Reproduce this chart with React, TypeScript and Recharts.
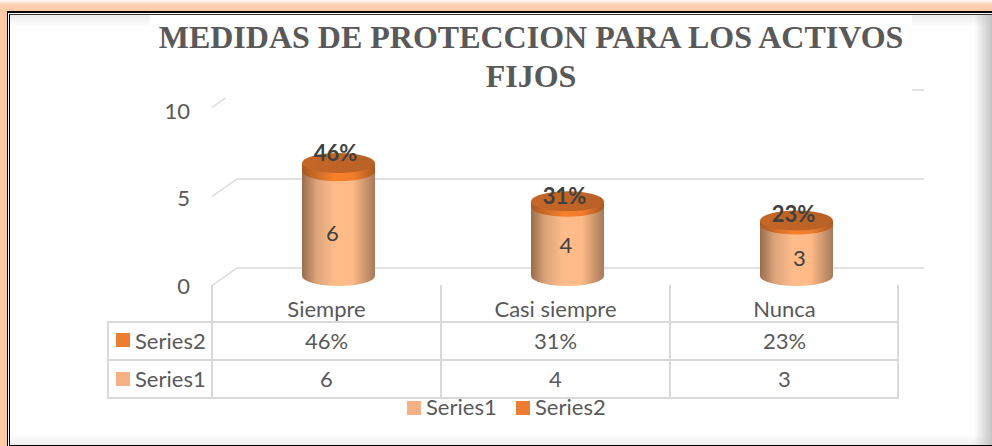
import { BarChart, Bar, XAxis, YAxis, CartesianGrid, Legend, LabelList } from 'recharts';

const titleLines = ['MEDIDAS DE PROTECCION PARA LOS ACTIVOS', 'FIJOS'];
const categories = ['Siempre', 'Casi siempre', 'Nunca'];
const series1 = [6, 4, 3];
const series2 = [0.46, 0.31, 0.23];
const yTicks = [0, 5, 10];

const chartData = categories.map((name, i) => ({ name, Series1: series1[i], Series2: series2[i] }));

const TEXT = '#595959';
const RULE = '#d9d9d9';
const FONT = 'Lato, sans-serif';
const COLORS: Record<string, string> = { Series1: '#f4b183', Series2: '#ed7d31' };
const pct = (v: number) => `${Math.round(v * 100)}%`;

// the cylinders sit in front of the back wall, so everything is nudged off the plot scale
const FRONT_X = -13;
const TOP_DY = 10;
const BASE_DY = 8;
const RY = 10;
// data labels were placed by hand in the original
const bodyLabelDy = [18, 12, 16];
const capLabelDy = [-0.5, 4.5, 3];

function Body({ x, y, width, height }: any) {
  const left = x + FRONT_X;
  const t = y + TOP_DY;
  const b = y + height + BASE_DY;
  const rx = width / 2;
  return (
    <path
      d={`M${left} ${t}L${left} ${b}A${rx} ${RY} 0 0 0 ${left + width} ${b}L${left + width} ${t}A${rx} ${RY} 0 0 0 ${left} ${t}Z`}
      fill="url(#bodyGrad)"
    />
  );
}

function Cap({ x, y, width, height }: any) {
  const left = x + FRONT_X;
  const t = y + TOP_DY;
  const b = t + height;
  const rx = width / 2;
  return (
    <g>
      <path
        d={`M${left} ${t}L${left} ${b}A${rx} ${RY} 0 0 0 ${left + width} ${b}L${left + width} ${t}Z`}
        fill="url(#bandGrad)"
      />
      <ellipse cx={left + rx} cy={t} rx={rx} ry={RY} fill="url(#capGrad)" />
    </g>
  );
}

function BodyLabel({ x, y, width, height, value, index }: any) {
  return (
    <text x={x + FRONT_X + width / 2 + (index - 1) * 4.5 - 1.5} y={y + height / 2 + bodyLabelDy[index]} textAnchor="middle" dominantBaseline="central" fontFamily={FONT} fontSize={22} fill="#404040">
      {value}
    </text>
  );
}

function CapLabel({ x, y, width, value, index }: any) {
  return (
    <text x={x + FRONT_X + width / 2 - 3} y={y + capLabelDy[index]} textAnchor="middle" dominantBaseline="central" fontFamily={FONT} fontSize={22} fontWeight={700} fill="#404040">
      {pct(value)}
    </text>
  );
}

function YTick({ y, payload }: any) {
  return (
    <g>
      <line x1={212} y1={y + 17.5} x2={237} y2={y} stroke={RULE} strokeWidth={1.5} />
      <text x={190} y={y + 17 + payload.value * 0.3} textAnchor="end" dominantBaseline="central" fontFamily={FONT} fontSize={22} fill={TEXT}>
        {payload.value}
      </text>
    </g>
  );
}

// category label plus the two data table cells under it
function TableColumn({ x, index, payload }: any) {
  const cx = x - 25;
  return (
    <g fontFamily={FONT} fontSize={22} fill={TEXT} textAnchor="middle">
      <text x={cx} y={308} dominantBaseline="central">{payload.value}</text>
      <text x={cx} y={340} dominantBaseline="central">{pct(series2[index])}</text>
      <text x={cx} y={378} dominantBaseline="central">{series1[index]}</text>
    </g>
  );
}

function TableRules() {
  const rows = [322, 360, 398];
  const cols = [212, 441, 670, 898];
  return (
    <svg width={992} height={446} style={{ position: 'absolute', left: 0, top: 0 }}>
      {rows.map((y) => <line key={y} x1={108} y1={y} x2={899} y2={y} stroke={RULE} strokeWidth={2} />)}
      {cols.map((x) => <line key={x} x1={x} y1={285} x2={x} y2={399} stroke={RULE} strokeWidth={2} />)}
      <line x1={108} y1={321} x2={108} y2={399} stroke={RULE} strokeWidth={2} />
      <rect x={116} y={333} width={14} height={14} fill={COLORS.Series2} />
      <rect x={116} y={372} width={14} height={14} fill={COLORS.Series1} />
      <g fontFamily={FONT} fontSize={22} fill={TEXT}>
        <text x={135} y={340} dominantBaseline="central">Series2</text>
        <text x={135} y={378} dominantBaseline="central">Series1</text>
      </g>
    </svg>
  );
}

function LegendRow({ payload }: any) {
  return (
    <div style={{ display: 'flex', alignItems: 'center', height: 30 }}>
      {(payload || []).map((p: any) => (
        <div key={p.value} style={{ display: 'flex', alignItems: 'center', width: 109 }}>
          <span style={{ display: 'inline-block', width: 14, height: 14, marginRight: 5, background: COLORS[p.value] }} />
          <span style={{ color: TEXT, fontFamily: FONT, fontSize: 22, lineHeight: '30px', position: 'relative', top: -1 }}>{p.value}</span>
        </div>
      ))}
    </div>
  );
}

export default function App() {
  return (
    <div style={{ position: 'absolute', left: 0, top: 0, width: 992, height: 446, overflow: 'hidden', background: 'linear-gradient(to bottom, #fff 0, #fcd5b8 4px, #fbc9a5 11px)' }}>
      <div style={{ position: 'absolute', left: 7, top: 11, right: -4, bottom: 0, borderLeft: '1px solid #000', borderTop: '2px solid #000', background: '#fff' }}>
        <div style={{ position: 'absolute', left: 1, top: 1, right: 0, bottom: 0, borderLeft: '1px solid #000', borderTop: '1px solid #333', borderBottom: '1px solid #000', background: 'linear-gradient(to bottom, #ececec 0, #fff 12px, #fff 420px, #eee 100%)' }} />
      </div>
      <div style={{ position: 'absolute', left: 974, top: 15, width: 18, height: 430, background: 'linear-gradient(to right, rgba(200,200,200,0), #c4c4c4)' }} />
      <TableRules />
      <div style={{ position: 'absolute', left: 0, top: 0 }}>
        <BarChart width={992} height={446} data={chartData} barSize={73} margin={{ top: 90, right: 68, bottom: 148, left: 177 }}>
          <defs>
            <linearGradient id="bodyGrad" x1="0" x2="1" y1="0" y2="0">
              <stop offset="0" stopColor="#9a6c4c" />
              <stop offset="0.2" stopColor="#dca47b" />
              <stop offset="0.45" stopColor="#ffbc8a" />
              <stop offset="0.7" stopColor="#fdb986" />
              <stop offset="1" stopColor="#a67a5a" />
            </linearGradient>
            <linearGradient id="bandGrad" x1="0" x2="1" y1="0" y2="0">
              <stop offset="0" stopColor="#a85a22" />
              <stop offset="0.45" stopColor="#f8802b" />
              <stop offset="0.7" stopColor="#f27c2c" />
              <stop offset="1" stopColor="#a85a22" />
            </linearGradient>
            <linearGradient id="capGrad" x1="0" x2="1" y1="0" y2="0">
              <stop offset="0" stopColor="#c56727" />
              <stop offset="1" stopColor="#b86126" />
            </linearGradient>
          </defs>
          <CartesianGrid horizontal vertical={false} stroke={RULE} strokeWidth={1.5} />
          <XAxis dataKey="name" axisLine={false} tickLine={false} height={30} interval={0} tick={<TableColumn />} />
          <YAxis type="number" domain={[0, 10]} ticks={yTicks} width={60} axisLine={false} tickLine={false} tick={<YTick />} />
          <Legend
            layout="horizontal"
            verticalAlign="middle"
            content={<LegendRow />}
            wrapperStyle={{ left: 407, top: 393, width: 230, height: 30 }}
          />
          <Bar dataKey="Series1" name="Series1" stackId="a" fill={COLORS.Series1} shape={<Body />} isAnimationActive={false}>
            <LabelList dataKey="Series1" content={<BodyLabel />} />
          </Bar>
          <Bar dataKey="Series2" name="Series2" stackId="a" fill={COLORS.Series2} shape={<Cap />} isAnimationActive={false}>
            <LabelList dataKey="Series2" content={<CapLabel />} />
          </Bar>
        </BarChart>
      </div>
      <div style={{ position: 'absolute', left: 150, top: 15, width: 762, height: 83, paddingTop: 3, boxSizing: 'border-box', background: '#fff', textAlign: 'center', fontFamily: '"Liberation Serif", serif', fontWeight: 700, fontSize: 32, lineHeight: '39px', color: TEXT, whiteSpace: 'nowrap' }}>
        {titleLines.map((line) => <div key={line}>{line}</div>)}
      </div>
    </div>
  );
}
